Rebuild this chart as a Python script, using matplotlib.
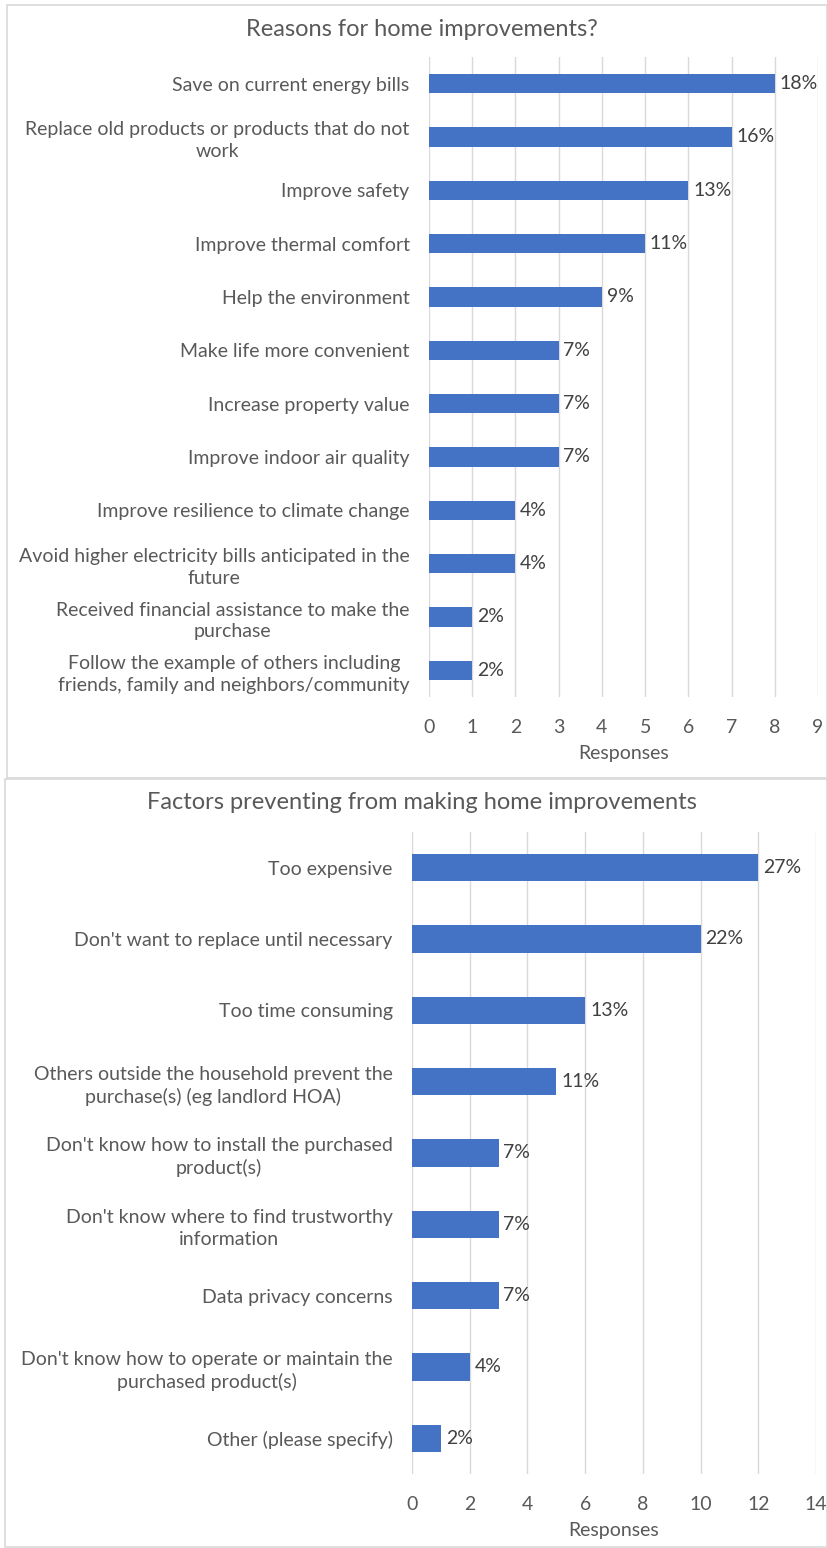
import matplotlib.pyplot as plt
from matplotlib.patches import Rectangle

plt.rcParams['font.family'] = ['Lato', 'DejaVu Sans']

reasons = ["Save on current energy bills",
           "Replace old products or products that do not\nwork",
           "Improve safety",
           "Improve thermal comfort",
           "Help the environment",
           "Make life more convenient",
           "Increase property value",
           "Improve indoor air quality",
           "Improve resilience to climate change",
           "Avoid higher electricity bills anticipated in the\nfuture",
           "Received financial assistance to make the\npurchase",
           "Follow the example of others including\nfriends, family and neighbors/community"]
reason_counts = [8, 7, 6, 5, 4, 3, 3, 3, 2, 2, 1, 1]
reason_pct = ["18%", "16%", "13%", "11%", "9%", "7%", "7%", "7%", "4%", "4%", "2%", "2%"]

factors = ["Too expensive",
           "Don't want to replace until necessary",
           "Too time consuming",
           "Others outside the household prevent the\npurchase(s) (eg landlord HOA)",
           "Don't know how to install the purchased\nproduct(s)",
           "Don't know where to find trustworthy\ninformation",
           "Data privacy concerns",
           "Don't know how to operate or maintain the\npurchased product(s)",
           "Other (please specify)"]
factor_counts = [12, 10, 6, 5, 3, 3, 3, 2, 1]
factor_pct = ["27%", "22%", "13%", "11%", "7%", "7%", "7%", "4%", "2%"]

W, H = 828, 1548
BAR = "#4472c4"
TXT = "#595959"
GRID = "#d9d9d9"
FS = 14

fig = plt.figure(figsize=(W / 100, H / 100), dpi=100)


def px_axes(x0, y0, x1, y1):
    # pixel box (top-left origin) -> figure axes
    return fig.add_axes([x0 / W, 1 - y1 / H, (x1 - x0) / W, (y1 - y0) / H])


def frame(x0, y0, x1, y1):
    fig.patches.append(Rectangle((x0 / W, 1 - y1 / H), (x1 - x0) / W, (y1 - y0) / H,
                                 transform=fig.transFigure, fill=False,
                                 edgecolor=GRID, linewidth=1.2))


def bar_chart(ax, labels, counts, pct, xmax, step, height):
    n = len(labels)
    ypos = list(range(n))
    ax.barh(ypos, counts, height=height, color=BAR, zorder=3)
    for y, c, p in zip(ypos, counts, pct):
        ax.text(c + xmax * 0.012, y, p, va='center', ha='left', fontsize=FS, color='#404040')
    ax.set_ylim(n - 0.5, -0.5)
    ax.set_xlim(0, xmax)
    ax.set_xticks(range(0, xmax + 1, step))
    ax.set_yticks(ypos)
    ax.set_yticklabels(labels, fontsize=FS, color=TXT, multialignment='center',
                       linespacing=1.35)
    ax.tick_params(axis='x', length=0, pad=16, labelsize=FS, labelcolor=TXT)
    ax.tick_params(axis='y', length=0, pad=14)
    ax.grid(axis='x', color=GRID, linewidth=1, zorder=0)
    ax.set_axisbelow(True)
    for s in ax.spines.values():
        s.set_visible(False)
    ax.set_xlabel("Responses", fontsize=FS, color=TXT, labelpad=6)


# top chart
frame(7, 5, 827, 778)
ax1 = px_axes(429, 57, 818, 697)
bar_chart(ax1, reasons, reason_counts, reason_pct, 9, 1, 0.36)
fig.text(422 / W, 1 - 30 / H, "Reasons for home improvements?", ha='center', va='center',
         fontsize=17, color=TXT)

# bottom chart
frame(5, 779, 827, 1547)
ax2 = px_axes(412, 832, 816, 1474)
bar_chart(ax2, factors, factor_counts, factor_pct, 14, 2, 0.38)
fig.text(422 / W, 1 - 803 / H, "Factors preventing from making home improvements",
         ha='center', va='center', fontsize=17, color=TXT)

fig.savefig("out.png", dpi=100, facecolor='white')
